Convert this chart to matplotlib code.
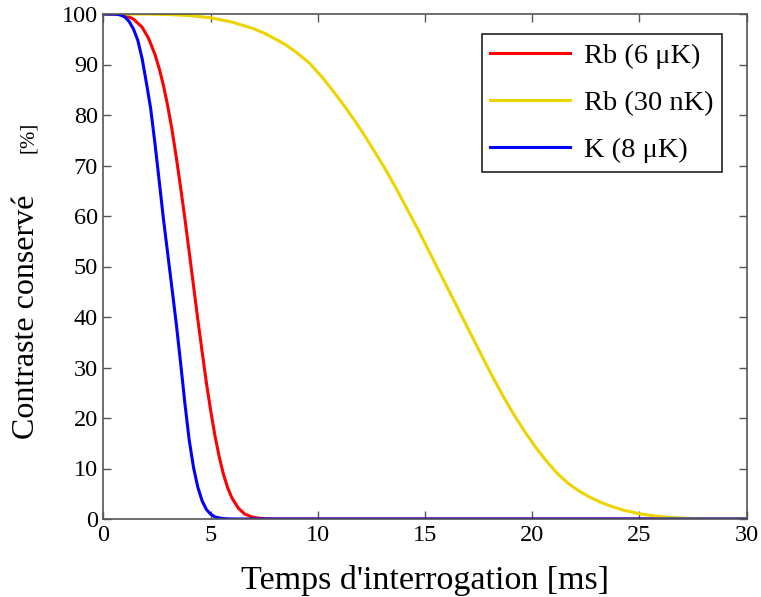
import matplotlib
matplotlib.use("Agg")
import matplotlib.pyplot as plt

# ------------------------------
# Data
# ------------------------------
t_rb6 = [0, 0.6, 1.0, 1.4, 1.8, 2.1, 2.4, 2.6, 2.8, 3.0, 3.2, 3.4, 3.6, 3.8, 4.0,
         4.2, 4.4, 4.6, 4.8, 5.0, 5.2, 5.4, 5.6, 5.8, 6.0, 6.3, 6.6, 7.0, 7.5, 8.0, 30]
c_rb6 = [100, 99.95, 99.75, 99.0, 97.4, 95.2, 92.0, 89.2, 85.8, 81.7, 77.0, 71.5, 65.6, 59.4, 52.8,
         46.2, 39.5, 33.2, 27.0, 21.5, 16.5, 12.3, 8.8, 6.1, 4.1, 2.1, 0.95, 0.3, 0.05, 0, 0]

t_k8 = [0, 0.6, 0.8, 1.0, 1.2, 1.4, 1.6, 1.8, 2.0, 2.2, 2.4, 2.6, 2.8, 3.0, 3.2,
        3.4, 3.6, 3.8, 4.0, 4.2, 4.4, 4.6, 4.8, 5.0, 5.2, 5.5, 5.8, 6.2, 30]
c_k8 = [100, 99.95, 99.8, 99.4, 98.5, 97.0, 94.8, 91.2, 86.4, 81.3, 74.4, 66.9, 59.3, 52.4, 45.5,
        38.5, 30.8, 22.8, 15.6, 10.2, 6.3, 3.6, 1.9, 0.95, 0.42, 0.12, 0.03, 0, 0]

t_rb30 = [0, 2, 3, 4, 5, 6, 7, 7.5, 8, 8.5, 9, 9.6, 10.2, 10.7, 11.2, 11.7, 12.2, 12.7, 13.2, 13.7,
          14.2, 14.7, 15.2, 15.7, 16.2, 16.7, 17.2, 17.7, 18.2, 18.7, 19.2, 19.7, 20.2,
          20.7, 21.2, 21.7, 22.2, 22.7, 23.2, 23.7, 24.3, 25, 25.7, 26.5, 27.5, 28.5, 30]
c_rb30 = [100, 99.98, 99.9, 99.7, 99.25, 98.4, 97.1, 96.2, 95.1, 93.9, 92.4, 90.3, 87.5, 84.8, 82.0,
          79.0, 75.8, 72.4, 68.9, 65.1, 61.1, 57.1, 52.9, 48.7, 44.5, 40.3, 36.1, 31.9, 27.8,
          23.9, 20.3, 17.0, 14.0, 11.3, 8.9, 7.0, 5.5, 4.3, 3.3, 2.5, 1.7, 1.05, 0.6, 0.3, 0.1,
          0.03, 0]

labels = ["Rb (6 μK)", "Rb (30 nK)", "K (8 μK)"]
colors = ["#FF0000", "#EDD400", "#0000FF"]

plt.rcParams["font.family"] = ["Liberation Serif", "DejaVu Serif"]

fig = plt.figure(figsize=(7.61, 5.97), dpi=100)
ax = fig.add_axes([103.5 / 761, 1 - 519 / 597, 643 / 761, 505 / 597])

ax.plot(t_rb6, c_rb6, color=colors[0], lw=2.2, label=labels[0])
ax.plot(t_rb30, c_rb30, color=colors[1], lw=2.2, label=labels[1])
ax.plot(t_k8, c_k8, color=colors[2], lw=2.2, label=labels[2])

ax.set_xlim(0, 30)
ax.set_ylim(0, 100)
ax.set_xticks(range(0, 31, 5))
ax.set_yticks(range(0, 101, 10))
ax.tick_params(direction="in", length=6, width=1, colors="#555555",
               labelcolor="black", labelsize=17.5, top=True, right=True, pad=4)
for s in ax.spines.values():
    s.set_color("#555555")
    s.set_linewidth(1.2)

ax.set_xlabel("Temps d'interrogation [ms]", fontsize=24.5, labelpad=14)

# y label: big text plus smaller unit
fig.text(27 / 761, 1 - 317 / 597, "Contraste conservé", rotation=90,
         fontsize=23, ha="center", va="center")
fig.text(28 / 761, 1 - 137 / 597, "[%]", rotation=90,
         fontsize=15, ha="center", va="center")

leg = ax.legend(loc="upper right", bbox_to_anchor=(0.962, 0.960), fontsize=20.5,
                handlelength=2.8, handletextpad=0.5, labelspacing=0.75,
                borderpad=0.3, borderaxespad=0, fancybox=False, framealpha=1)
leg.get_frame().set_edgecolor("#222222")
leg.get_frame().set_linewidth(1.2)

plt.savefig("out.png", dpi=100)
